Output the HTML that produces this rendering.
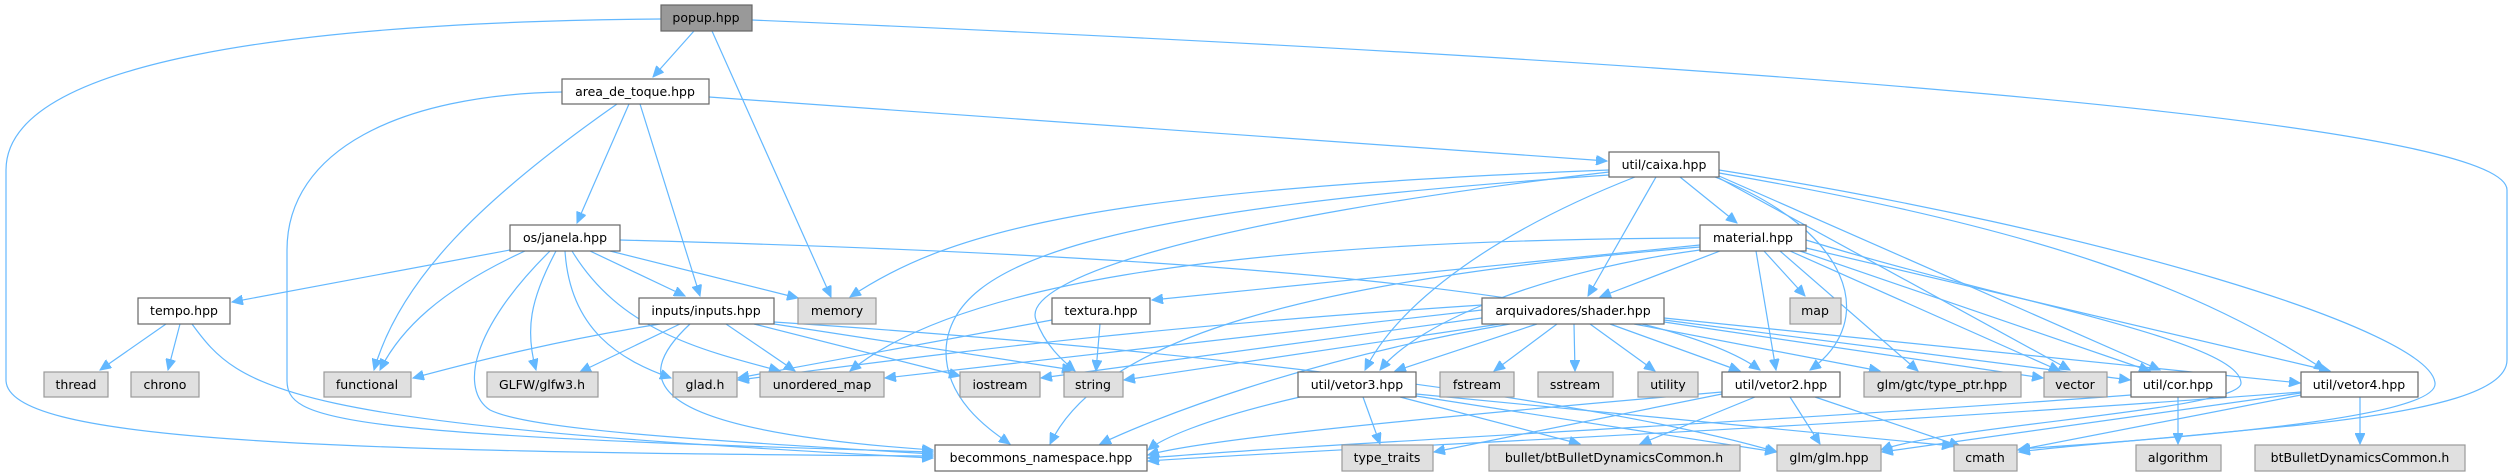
<!DOCTYPE html>
<html><head><meta charset="utf-8"><style>
html,body{margin:0;padding:0;background:#fff;}
svg{display:block;}
text{font-family:"DejaVu Sans","Liberation Sans",sans-serif;font-size:12.5px;fill:#000;}
.e{fill:none;stroke:#63b8ff;stroke-width:1.2;marker-end:url(#a);}
.n{fill:#fff;stroke:#666;stroke-width:1.2;}
.g{fill:#e0e0e0;stroke:#999;stroke-width:1.2;}
.p{fill:#999;stroke:#666;stroke-width:1.2;}
</style></head><body>
<svg width="2512" height="476" viewBox="0 0 2512 476" xmlns="http://www.w3.org/2000/svg">
<defs><marker id="a" markerUnits="userSpaceOnUse" markerWidth="12" markerHeight="10" refX="11" refY="5" orient="auto"><path d="M0,0 L11,5 L0,10 z" fill="#63b8ff" stroke="#63b8ff"/></marker></defs>
<g>
<path class="e" d="M694,31 L653,77"/>
<path class="e" d="M712,31 L831,297"/>
<path class="e" d="M661,19 C300,22 6,60 6,170 L6,380 C6,440 300,452 933,456"/>
<path class="e" d="M752,20 C1700,60 2507,120 2507,190 L2507,360 C2507,390 2440,410 2300,425 C2150,440 2050,447 2019,452"/>
<path class="e" d="M709,97 L1607,161"/>
<path class="e" d="M629,104 L577,223"/>
<path class="e" d="M640,104 L700,296"/>
<path class="e" d="M617,104 C480,200 400,280 374,370"/>
<path class="e" d="M562,92 C400,95 287,150 287,250 L287,380 C287,420 330,435 933,452"/>
<path class="e" d="M510,250 L232,302"/>
<path class="e" d="M525,251 C440,290 400,330 380,370"/>
<path class="e" d="M556,251 C530,300 525,330 536,370"/>
<path class="e" d="M565,251 C570,330 620,360 671,378"/>
<path class="e" d="M572,251 C620,330 700,350 780,371"/>
<path class="e" d="M590,251 L685,296"/>
<path class="e" d="M610,251 L798,298"/>
<path class="e" d="M550,251 C470,330 460,390 490,410 C530,430 700,440 933,454"/>
<path class="e" d="M620,240 C1200,255 1650,290 1760,370"/>
<path class="e" d="M166,324 L100,370"/>
<path class="e" d="M180,324 L168,370"/>
<path class="e" d="M192,324 C240,390 280,425 933,458"/>
<path class="e" d="M660,324 C560,340 480,360 413,378"/>
<path class="e" d="M680,324 L580,372"/>
<path class="e" d="M726,324 L795,371"/>
<path class="e" d="M754,324 L960,376"/>
<path class="e" d="M690,324 C630,380 640,430 933,450"/>
<path class="e" d="M774,322 C1200,350 1600,400 1777,452"/>
<path class="e" d="M774,324 L1073,370"/>
<path class="e" d="M1609,170 C1100,190 950,230 850,297"/>
<path class="e" d="M1609,172 C1200,220 1020,280 1036,320 C1045,345 1062,360 1075,371"/>
<path class="e" d="M1609,175 C1100,210 950,260 946,350 C945,400 990,430 1010,444"/>
<path class="e" d="M1635,177 C1500,230 1400,300 1365,370"/>
<path class="e" d="M1656,177 L1588,296"/>
<path class="e" d="M1680,177 L1737,223"/>
<path class="e" d="M1715,177 C1850,230 1880,320 1810,370"/>
<path class="e" d="M1719,178 L2070,370"/>
<path class="e" d="M1719,176 L2160,370"/>
<path class="e" d="M1719,173 C2050,230 2200,290 2325,370"/>
<path class="e" d="M1719,170 C2100,230 2430,330 2435,383 C2440,420 2150,440 2019,449"/>
<path class="e" d="M1700,238 C1200,240 950,290 850,371"/>
<path class="e" d="M1700,245 L1152,300"/>
<path class="e" d="M1700,247 C1300,280 1100,340 1050,444"/>
<path class="e" d="M1700,250 C1550,270 1420,320 1380,370"/>
<path class="e" d="M1720,251 L1600,297"/>
<path class="e" d="M1764,251 L1805,296"/>
<path class="e" d="M1756,251 L1776,370"/>
<path class="e" d="M1780,251 L1918,371"/>
<path class="e" d="M1790,251 L2060,371"/>
<path class="e" d="M1800,251 L2150,371"/>
<path class="e" d="M1806,248 L2330,371"/>
<path class="e" d="M1806,240 C2000,300 2240,340 2241,383 C2242,410 1950,425 1881,450"/>
<path class="e" d="M1482,305 C1100,330 900,360 738,380"/>
<path class="e" d="M1482,310 L885,378"/>
<path class="e" d="M1482,318 L1041,378"/>
<path class="e" d="M1500,324 L1124,380"/>
<path class="e" d="M1510,324 C1300,360 1150,420 1100,444"/>
<path class="e" d="M1537,324 L1395,371"/>
<path class="e" d="M1557,324 L1494,371"/>
<path class="e" d="M1574,324 L1575,371"/>
<path class="e" d="M1590,324 L1655,371"/>
<path class="e" d="M1610,324 L1740,371"/>
<path class="e" d="M1634,324 L1880,371"/>
<path class="e" d="M1664,322 L2043,378"/>
<path class="e" d="M1664,320 L2130,380"/>
<path class="e" d="M1664,318 L2300,383"/>
<path class="e" d="M1052,320 L738,378"/>
<path class="e" d="M1100,324 L1096,371"/>
<path class="e" d="M1363,397 L1380,444"/>
<path class="e" d="M1400,397 L1580,444"/>
<path class="e" d="M1416,396 L1776,452"/>
<path class="e" d="M1300,397 C1200,420 1160,440 1148,450"/>
<path class="e" d="M1416,394 C1700,420 1900,440 1953,446"/>
<path class="e" d="M1722,394 L1434,452"/>
<path class="e" d="M1755,397 L1640,444"/>
<path class="e" d="M1790,397 L1820,444"/>
<path class="e" d="M1815,397 L1960,446"/>
<path class="e" d="M1722,392 C1400,420 1200,440 1148,455"/>
<path class="e" d="M2178,397 L2178,444"/>
<path class="e" d="M2131,395 C1800,420 1300,445 1148,458"/>
<path class="e" d="M2360,397 L2360,444"/>
<path class="e" d="M2301,395 L2018,450"/>
<path class="e" d="M2301,393 L1882,452"/>
<path class="e" d="M2301,392 C1800,430 1300,450 1148,461"/>
</g>
<g text-anchor="middle">
<rect class="p" x="661" y="5" width="91" height="26"/><text x="706" y="22">popup.hpp</text>
<rect class="n" x="562" y="79" width="147" height="25"/><text x="635" y="96">area_de_toque.hpp</text>
<rect class="n" x="1609" y="152" width="110" height="25"/><text x="1664" y="169">util/caixa.hpp</text>
<rect class="n" x="510" y="225" width="110" height="26"/><text x="565" y="242">os/janela.hpp</text>
<rect class="n" x="1700" y="225" width="106" height="26"/><text x="1753" y="242">material.hpp</text>
<rect class="n" x="138" y="298" width="92" height="26"/><text x="184" y="315">tempo.hpp</text>
<rect class="n" x="639" y="298" width="135" height="26"/><text x="706" y="315">inputs/inputs.hpp</text>
<rect class="g" x="798" y="298" width="78" height="26"/><text x="837" y="315">memory</text>
<rect class="n" x="1052" y="298" width="98" height="26"/><text x="1101" y="315">textura.hpp</text>
<rect class="n" x="1482" y="298" width="182" height="26"/><text x="1573" y="315">arquivadores/shader.hpp</text>
<rect class="g" x="1790" y="298" width="51" height="26"/><text x="1815" y="315">map</text>
<rect class="g" x="44" y="372" width="64" height="25"/><text x="76" y="389">thread</text>
<rect class="g" x="131" y="372" width="68" height="25"/><text x="165" y="389">chrono</text>
<rect class="g" x="324" y="372" width="87" height="25"/><text x="367" y="389">functional</text>
<rect class="g" x="487" y="372" width="111" height="25"/><text x="542" y="389">GLFW/glfw3.h</text>
<rect class="g" x="673" y="372" width="64" height="25"/><text x="705" y="389">glad.h</text>
<rect class="g" x="760" y="372" width="124" height="25"/><text x="822" y="389">unordered_map</text>
<rect class="g" x="960" y="372" width="80" height="25"/><text x="1000" y="389">iostream</text>
<rect class="g" x="1064" y="372" width="59" height="25"/><text x="1093" y="389">string</text>
<rect class="n" x="1298" y="372" width="118" height="25"/><text x="1357" y="389">util/vetor3.hpp</text>
<rect class="g" x="1440" y="372" width="74" height="25"/><text x="1477" y="389">fstream</text>
<rect class="g" x="1538" y="372" width="75" height="25"/><text x="1575" y="389">sstream</text>
<rect class="g" x="1638" y="372" width="60" height="25"/><text x="1668" y="389">utility</text>
<rect class="n" x="1722" y="372" width="118" height="25"/><text x="1781" y="389">util/vetor2.hpp</text>
<rect class="g" x="1864" y="372" width="157" height="25"/><text x="1942" y="389">glm/gtc/type_ptr.hpp</text>
<rect class="g" x="2044" y="372" width="63" height="25"/><text x="2075" y="389">vector</text>
<rect class="n" x="2131" y="372" width="95" height="25"/><text x="2178" y="389">util/cor.hpp</text>
<rect class="n" x="2301" y="372" width="117" height="25"/><text x="2359" y="389">util/vetor4.hpp</text>
<rect class="n" x="935" y="445" width="212" height="26"/><text x="1041" y="462">becommons_namespace.hpp</text>
<rect class="g" x="1342" y="445" width="91" height="26"/><text x="1387" y="462">type_traits</text>
<rect class="g" x="1489" y="445" width="251" height="26"/><text x="1614" y="462">bullet/btBulletDynamicsCommon.h</text>
<rect class="g" x="1777" y="445" width="104" height="26"/><text x="1829" y="462">glm/glm.hpp</text>
<rect class="g" x="1954" y="445" width="63" height="26"/><text x="1985" y="462">cmath</text>
<rect class="g" x="2136" y="445" width="85" height="26"/><text x="2178" y="462">algorithm</text>
<rect class="g" x="2255" y="445" width="210" height="26"/><text x="2360" y="462">btBulletDynamicsCommon.h</text>
</g>
</svg>
</body></html>
